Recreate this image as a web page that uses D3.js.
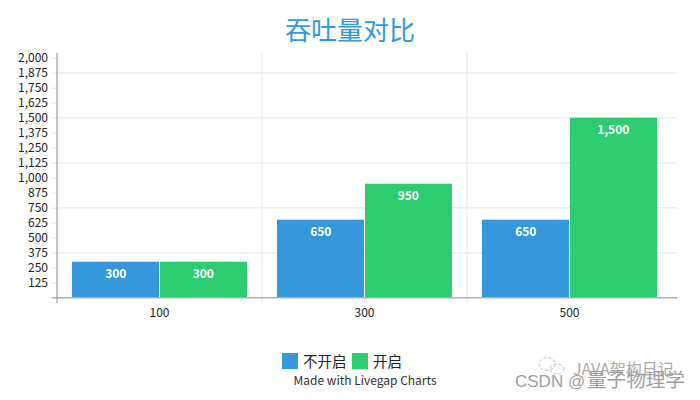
<!DOCTYPE html>
<html><head><meta charset="utf-8">
<script src="https://cdn.jsdelivr.net/npm/d3@7/dist/d3.min.js"></script>
<style>html,body{margin:0;background:#fff}svg{display:block}text{font-family:"Noto Sans CJK SC","Noto Sans",sans-serif}</style>
</head><body><svg id="c" width="700" height="400"></svg>
<script>
const categories=["100","300","500"];
const seriesNames=["不开启","开启"];
const seriesColors=["#3498db","#2ecc71"];
const offValues=[300,650,650];
const onValues=[300,950,1500];
const yTicks=[125,250,375,500,625,750,875,1000,1125,1250,1375,1500,1625,1750,1875,2000];
const yGrid=[375,750,1125,1500,1875];
const titleText="吞吐量对比";
const credit="Made with Livegap Charts";

const svg=d3.select("#c");
const x=d3.scaleBand().domain(categories).range([57,672]);
const inner=d3.scaleBand().domain([0,1]).range([15,x.bandwidth()-15]);
const y=d3.scaleLinear().domain([0,2000]).range([297.7,57.7]);
const fmt=d3.format(",");

svg.append("text").attr("x",350).attr("y",40).attr("text-anchor","middle")
  .attr("font-size",26).attr("fill","#3498db").text(titleText);

const grid=svg.append("g").attr("stroke","#eeeeee").attr("stroke-width",1.5);
grid.selectAll("line.h").data(yGrid).join("line").attr("x1",57).attr("x2",677)
  .attr("y1",d=>y(d)).attr("y2",d=>y(d));
grid.selectAll("line.v").data(categories.slice(1)).join("line")
  .attr("x1",d=>x(d)).attr("x2",d=>x(d)).attr("y1",53).attr("y2",303);

const yAxis=svg.append("g").attr("transform","translate(57,0)")
  .call(d3.axisLeft(y).tickValues(yTicks).tickFormat(fmt).tickSize(5).tickPadding(4));
yAxis.select(".domain").remove();
yAxis.selectAll("line").attr("stroke","#eeeeee").attr("stroke-width",1.5);
yAxis.selectAll("text").attr("font-size",12).attr("fill","#222")
  .style('font-family','"Noto Sans CJK SC"');

[offValues,onValues].forEach((vals,i)=>{
  const g=svg.append("g");
  g.selectAll("rect").data(vals).join("rect")
    .attr("x",(d,k)=>x(categories[k])+inner(i)+(i?0.5:0))
    .attr("width",inner.bandwidth()-0.5)
    .attr("y",d=>y(d)).attr("height",d=>y(0)-y(d))
    .attr("fill",seriesColors[i]);
  g.selectAll("text").data(vals).join("text")
    .attr("x",(d,k)=>x(categories[k])+inner(i)+inner.bandwidth()/2)
    .attr("y",d=>y(d)+16).attr("text-anchor","middle")
    .attr("font-size",12).attr("font-weight",700).attr("fill","#fff").text(fmt);
});

const axisC="#b0b0b0";
svg.append("line").attr("x1",57).attr("x2",57).attr("y1",53).attr("y2",303)
  .attr("stroke",axisC).attr("stroke-width",1.5);
svg.append("line").attr("x1",52).attr("x2",677).attr("y1",y(0)).attr("y2",y(0))
  .attr("stroke",axisC).attr("stroke-width",1.5);

const xAxis=svg.append("g").attr("transform","translate(0,303)")
  .call(d3.axisBottom(x).tickSize(0).tickPadding(5));
xAxis.select(".domain").remove();
xAxis.selectAll("text").attr("font-size",12).attr("fill","#222")
  .style('font-family','"Noto Sans CJK SC"');

// legend
const legendX=[282,352];
seriesNames.forEach((n,i)=>{
  svg.append("rect").attr("x",legendX[i]).attr("y",353).attr("width",16).attr("height",16)
    .attr("fill",seriesColors[i]);
  svg.append("text").attr("x",legendX[i]+21).attr("y",366.5).attr("font-size",14.5)
    .attr("fill","#222").text(n);
});
svg.append("text").attr("x",365).attr("y",385).attr("text-anchor","middle")
  .attr("font-size",12).attr("fill","#333").text(credit);

// watermark
svg.append("text").attr("x",573).attr("y",375).attr("font-size",16).attr("fill","#aaa").text("JAVA架构日记");
const wm=svg.append("text").attr("y",387).attr("fill","#a0a0a0");
wm.append("tspan").attr("x",515).attr("font-size",17).style("font-family",'"Liberation Sans"').text("CSDN @");
wm.append("tspan").attr("x",587).attr("font-size",19.6).text("量子物理学");
const w=svg.append("g").attr("fill","none").attr("stroke","#bbb").attr("stroke-dasharray","3 2");
w.append("ellipse").attr("cx",547).attr("cy",364).attr("rx",8).attr("ry",6.5);
w.append("ellipse").attr("cx",557).attr("cy",369).attr("rx",7).attr("ry",5);
</script></body></html>
